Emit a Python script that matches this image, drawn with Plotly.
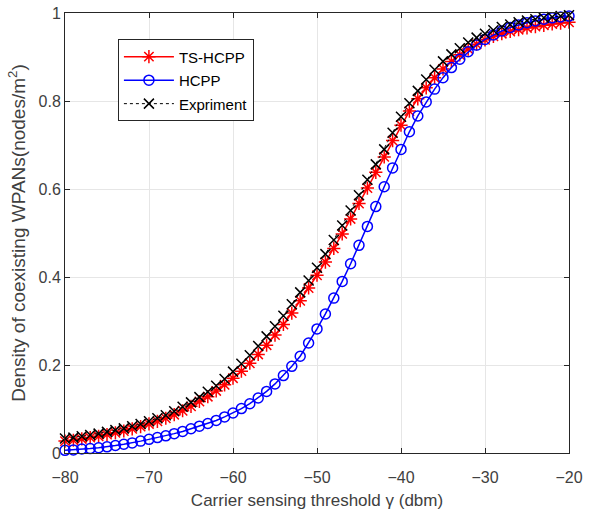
import plotly.graph_objects as go

# carrier sensing threshold (dbm), one point per dbm
threshold = list(range(-80, -19))

ts_hcpp = [
    0.027, 0.029, 0.032, 0.035, 0.038, 0.042, 0.046, 0.050, 0.055, 0.060,
    0.066, 0.072, 0.079, 0.087, 0.096, 0.106, 0.117, 0.128, 0.141, 0.155,
    0.170, 0.186, 0.204, 0.224, 0.245, 0.268, 0.292, 0.318, 0.346, 0.375,
    0.404, 0.434, 0.465, 0.498, 0.532, 0.567, 0.602, 0.638, 0.673, 0.710,
    0.745, 0.777, 0.805, 0.830, 0.853, 0.873, 0.890, 0.905, 0.918, 0.929,
    0.939, 0.947, 0.953, 0.958, 0.962, 0.966, 0.969, 0.972, 0.975, 0.977,
    0.979,
]

hcpp = [
    0.006, 0.007, 0.009, 0.010, 0.012, 0.014, 0.017, 0.020, 0.023, 0.027,
    0.031, 0.035, 0.039, 0.044, 0.049, 0.055, 0.061, 0.067, 0.074, 0.082,
    0.091, 0.101, 0.112, 0.125, 0.140, 0.157, 0.176, 0.197, 0.220, 0.250,
    0.282, 0.316, 0.352, 0.390, 0.430, 0.472, 0.515, 0.560, 0.605, 0.648,
    0.690, 0.730, 0.766, 0.798, 0.827, 0.853, 0.876, 0.895, 0.912, 0.927,
    0.940, 0.950, 0.959, 0.967, 0.973, 0.978, 0.982, 0.986, 0.989, 0.991,
    0.993,
]

expriment = [
    0.033, 0.035, 0.038, 0.041, 0.044, 0.048, 0.052, 0.056, 0.061, 0.066,
    0.072, 0.079, 0.086, 0.095, 0.105, 0.115, 0.127, 0.139, 0.153, 0.168,
    0.185, 0.203, 0.222, 0.243, 0.265, 0.288, 0.312, 0.338, 0.365, 0.392,
    0.421, 0.452, 0.484, 0.517, 0.551, 0.586, 0.621, 0.656, 0.690, 0.728,
    0.764, 0.795, 0.823, 0.849, 0.871, 0.890, 0.906, 0.920, 0.933, 0.944,
    0.953, 0.961, 0.968, 0.974, 0.979, 0.983, 0.986, 0.989, 0.991, 0.993,
    0.995,
]

x_ticks = [-80, -70, -60, -50, -40, -30, -20]
y_ticks = [0, 0.2, 0.4, 0.6, 0.8, 1]

font_family = "Liberation Sans, Arial, sans-serif"
text_color = "#404040"

fig = go.Figure()
fig.add_trace(go.Scatter(
    x=threshold, y=ts_hcpp, name="TS-HCPP", mode="lines+markers",
    legendgroup="a",
    line=dict(color="#ff0000", width=1.5),
    marker=dict(symbol="asterisk-open", size=11, color="#ff0000",
                line=dict(color="#ff0000", width=1.5)),
    cliponaxis=False,
))
fig.add_trace(go.Scatter(
    x=threshold, y=hcpp, name="HCPP", mode="lines+markers",
    legendgroup="b",
    line=dict(color="#0000ff", width=1.5),
    marker=dict(symbol="circle-open", size=10, color="#0000ff",
                line=dict(color="#0000ff", width=1.5)),
    cliponaxis=False,
))
fig.add_trace(go.Scatter(
    x=threshold, y=expriment, name="Expriment", mode="lines+markers",
    legendgroup="c",
    line=dict(color="#000000", width=1, dash="dot"),
    marker=dict(symbol="x-thin-open", size=10, color="#000000",
                line=dict(color="#000000", width=1.5)),
    cliponaxis=False,
))

axis_style = dict(
    showline=True, linecolor="#262626", linewidth=1, mirror="ticks",
    ticks="inside", ticklen=5, tickcolor="#262626",
    showgrid=True, gridcolor="#e6e6e6", gridwidth=1, zeroline=False,
    tickfont=dict(family=font_family, size=16, color=text_color),
    automargin=False,
)

fig.update_xaxes(
    range=[-80, -20], tickvals=x_ticks, ticklabelstandoff=10,
    title=dict(text="Carrier sensing threshold γ (dbm)", standoff=8,
               font=dict(family=font_family, size=17, color=text_color)),
    **axis_style,
)
fig.update_yaxes(
    range=[0, 1], tickvals=y_ticks, ticklabelstandoff=0,
    title=dict(text="Density of coexisting WPANs(nodes/m<sup>2</sup>)", standoff=7,
               font=dict(family=font_family, size=19, color=text_color)),
    **axis_style,
)

fig.update_layout(
    width=591, height=515,
    margin=dict(l=65, r=22, t=13, b=62),
    plot_bgcolor="white", paper_bgcolor="white",
    font=dict(family=font_family, color=text_color),
    legend=dict(
        x=0.105, y=0.94, xanchor="left", yanchor="top",
        bgcolor="white", bordercolor="#262626", borderwidth=1,
        font=dict(family=font_family, size=15, color="#000000"),
        itemwidth=50, traceorder="grouped", tracegroupgap=1,
    ),
)

# drop the default 8px body margin so the figure fills the window
fig.write_html("out.html", config={"displayModeBar": False},
               post_script="document.body.style.margin = '0px';")
